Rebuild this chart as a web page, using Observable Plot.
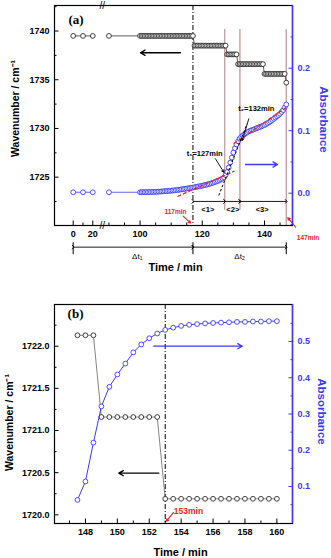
<!DOCTYPE html>
<html><head><meta charset="utf-8">
<script src="https://cdn.jsdelivr.net/npm/d3@7"></script>
<script src="https://cdn.jsdelivr.net/npm/@observablehq/plot@0.6"></script>
<style>
body{margin:0;background:#fff;}
.panel{position:relative;width:331px;}
.panel svg{position:absolute;left:0;top:0;}
</style></head><body>
<div id="pa" class="panel" style="height:280px"></div>
<div id="pb" class="panel" style="height:278px"></div>
<script>
// ---------- Panel (a) data ----------
const sparseTimeA = [0, 10, 20, 90];
const sparseWaveA = [1739.5, 1739.5, 1739.5, 1739.5];
const sparseAbsA = [0.0015, 0.0015, 0.0015, 0.0015];
const denseTimeA = [100,100.5,101,101.5,102,102.5,103,103.5,104,104.5,
  105,105.5,106,106.5,107,107.5,108,108.5,109,109.5,
  110,110.5,111,111.5,112,112.5,113,113.5,114,114.5,
  115,115.5,116,116.5,117,117.5,118,118.5,119,119.5,
  120,120.5,121,121.5,122,122.5,123,123.5,124,124.5,
  125,125.5,126,126.5,127,127.5,128,128.5,129,129.5,
  130,130.5,131,131.5,132,132.5,133,133.5,134,134.5,
  135,135.5,136,136.5,137,137.5,138,138.5,139,139.5,
  140,140.5,141,141.5,142,142.5,143,143.5,144,144.5,
  145,145.5,146,146.5,147];
const denseAbsA = [0.0015,0.0015,0.0016,0.0016,0.0017,0.0017,0.0018,0.0019,0.002,0.0021,
  0.0022,0.0023,0.0025,0.0026,0.0028,0.003,0.0032,0.0034,0.0036,0.0038,
  0.004,0.0043,0.0046,0.0049,0.0052,0.0055,0.0058,0.0062,0.0066,0.007,
  0.0074,0.0078,0.0082,0.0086,0.009,0.0095,0.01,0.0105,0.011,0.0115,
  0.012,0.0126,0.0132,0.0138,0.0145,0.0152,0.016,0.0168,0.0177,0.0186,
  0.0196,0.0207,0.022,0.0235,0.0252,0.029,0.034,0.041,0.049,0.057,
  0.065,0.072,0.078,0.083,0.087,0.09,0.092,0.094,0.096,0.0975,
  0.099,0.1,0.101,0.102,0.103,0.104,0.105,0.106,0.107,0.108,
  0.109,0.1105,0.112,0.1135,0.115,0.117,0.119,0.121,0.123,0.125,
  0.127,0.13,0.133,0.137,0.142];
// wavenumber plateaus: start time of each step and its level
const stepStartA = [100, 117.5, 128, 131.5, 140, 147];
const stepWaveA = [1739.5, 1738.5, 1737.6, 1736.6, 1735.6, 1734.7];
const xLabelTimeA = [0, 20, 100, 120, 140];
const xMinorTimeA = [10, 90, 95, 105, 110, 115, 125, 130, 135, 145];
const waveTicksA = [1725, 1730, 1735, 1740];
const waveMinorA = [1722.5, 1727.5, 1732.5, 1737.5, 1742.5];
const absTicksA = [0, 0.1, 0.2];
const absMinorA = [-0.05, 0.05, 0.15, 0.25];
const regionTimesA = [117, 127.2, 132.1, 147];
const regionLabelsA = ["<1>", "<2>", "<3>"];

// ---------- Panel (b) data ----------
const timeB = [147.5,148,148.5,149,149.5,150,150.5,151,151.5,152,152.5,153,153.5,
  154,154.5,155,155.5,156,156.5,157,157.5,158,158.5,159,159.5,160];
const waveB = [1722.13,1722.13,1722.13,1721.16,1721.16,1721.16,1721.16,1721.16,1721.16,1721.16,1721.16,
  1720.19,1720.19,1720.19,1720.19,1720.19,1720.19,1720.19,1720.19,1720.19,1720.19,1720.19,1720.19,1720.19,1720.19,1720.19];
const absB = [0.063,0.114,0.221,0.321,0.375,0.409,0.439,0.47,0.492,0.509,0.522,0.532,0.538,
  0.543,0.546,0.548,0.55,0.551,0.552,0.553,0.554,0.554,0.555,0.555,0.556,0.556];
const xTicksB = [148, 150, 152, 154, 156, 158, 160];
const xMinorB = [147, 149, 151, 153, 155, 157, 159];
const waveTicksB = [1720.0, 1720.5, 1721.0, 1721.5, 1722.0];
const waveMinorB = [1720.25, 1720.75, 1721.25, 1721.75, 1722.25];
const absTicksB = [0.1, 0.2, 0.3, 0.4, 0.5];
const absMinorB = [0.05, 0.15, 0.25, 0.35, 0.45, 0.55];

// ---------- styling ----------
const blue = "#3b3bf2", red = "#e5262b", brown = "#c6a2a2";
const font = "'Liberation Sans', Arial, sans-serif";
const style = {fontFamily: font, fontWeight: "bold", background: "transparent", overflow: "visible"};

// broken time axis: 0-20 min compressed before the break
const txA = t => t >= 50 ? t : 78.51 + t * 0.315;

const xDomainA = [72.5, 149], waveDomainA = [1720.04, 1742.62], absDomainA = [-0.0517, 0.3003];
const xDomainB = [146.06, 160.98], waveDomainB = [1719.897, 1722.495], absDomainB = [-0.002, 0.602];

const rowsA = sparseTimeA.map((t, i) => ({t, w: sparseWaveA[i], a: sparseAbsA[i], g: t < 50 ? 0 : 1}))
  .concat(denseTimeA.map((t, i) => ({t, w: stepWaveA[d3.bisectRight(stepStartA, t) - 1], a: denseAbsA[i], g: 1})));
const rowsB = timeB.map((t, i) => ({t, w: waveB[i], a: absB[i]}));

const T = (data, opts) => Plot.text(data, {x: "x", y: "y", text: "s", ...opts});
const noText = () => "";

const baseA = {width: 331, height: 280, marginLeft: 54, marginRight: 39, marginTop: 5, marginBottom: 55, style};
const baseB = {width: 331, height: 278, marginLeft: 54, marginRight: 39, marginTop: 24, marginBottom: 35, style};

// ---------- Panel (a): wavenumber layer ----------
const aW = Plot.plot({
  ...baseA,
  x: {domain: xDomainA},
  y: {domain: waveDomainA},
  marks: [
    Plot.ruleX(regionTimesA.slice(1, 3), {x: d => txA(d), y1: 1740.16, y2: 1721.6, stroke: brown, strokeWidth: 1.4}),
    Plot.ruleX(regionTimesA.slice(3), {x: d => txA(d), y1: 1740.16, y2: waveDomainA[0], stroke: brown, strokeWidth: 1.4}),
    Plot.ruleX(regionTimesA.slice(0, 1), {x: d => txA(d), stroke: "#000", strokeWidth: 1, strokeDasharray: "5,2,1,2"}),
    Plot.frame({stroke: "#000", strokeWidth: 1.2}),
    Plot.line(rowsA, {x: d => txA(d.t), y: "w", z: "g", stroke: "#333", strokeWidth: 0.8}),
    Plot.dot(rowsA, {x: d => txA(d.t), y: "w", r: 2.4, stroke: "#2a2a2a", fill: "white", strokeWidth: 0.9}),
    Plot.arrow([{x1: 113.0, x2: 100.14, y: 1737.77}], {x1: "x1", x2: "x2", y1: "y", y2: "y", stroke: "#000", strokeWidth: 1.3, headLength: 6}),
    // region dimension lines <1> <2> <3>
    Plot.link(d3.pairs(regionTimesA), {x1: d => txA(d[0]), x2: d => txA(d[1]), y1: 1722.51, y2: 1722.51, stroke: "#000", strokeWidth: 0.9, markerStart: "arrow", markerEnd: "arrow"}),
    T(regionLabelsA.map((s, i) => ({s, x: [121.78, 129.81, 139.26][i], y: 1721.69})), {fontSize: 7.5}),
    // delta t dimension lines
    Plot.ruleX([0, 117, 147], {x: d => txA(d), y1: 1718.27, y2: 1717.04, stroke: "#000", strokeWidth: 1}),
    Plot.link([[0, 117], [117, 147]], {x1: d => txA(d[0]), x2: d => txA(d[1]), y1: 1717.82, y2: 1717.82, stroke: "#000", strokeWidth: 0.9, markerStart: "arrow", markerEnd: "arrow"}),
    T([{s: "Δt₁", x: 99.08, y: 1716.9}, {s: "Δt₂", x: 132.0, y: 1716.9}], {fontSize: 8, fontWeight: "normal"}),
    // red time markers
    T([{s: "117min", x: 111.39, y: 1721.41}, {s: "147min", x: 153.99, y: 1718.79}], {fontSize: 6.5, fill: red}),
    Plot.arrow([{x1: 113.87, y1: 1721.0, x2: 116.22, y2: 1720.29}, {x1: 149.97, y1: 1719.87, x2: 147.49, y2: 1720.84}],
      {x1: "x1", y1: "y1", x2: "x2", y2: "y2", stroke: red, strokeWidth: 1.1, headLength: 3.5}),
    // axis break marks
    T([{s: "//", x: 87.83, y: waveDomainA[1]}, {s: "//", x: 87.83, y: waveDomainA[0]}], {fontSize: 10, fontWeight: "normal"}),
    // axes
    Plot.axisX(xLabelTimeA.map(txA), {anchor: "bottom", tickSize: 0, tickPadding: 5, fontSize: 9, label: null,
      tickFormat: u => xLabelTimeA[xLabelTimeA.map(txA).findIndex(v => Math.abs(v - u) < 1e-6)]}),
    Plot.axisX(xLabelTimeA.map(txA), {anchor: "bottom", tickSize: -4.5, tickFormat: noText, label: null}),
    Plot.axisX(xMinorTimeA.map(txA), {anchor: "bottom", tickSize: -2.5, tickFormat: noText, label: null}),
    Plot.axisY(waveTicksA, {anchor: "left", tickSize: 0, tickPadding: 5, fontSize: 9, tickFormat: d3.format("d"), label: null}),
    Plot.axisY(waveTicksA, {anchor: "left", tickSize: -4.5, tickFormat: noText, label: null}),
    Plot.axisY(waveMinorA, {anchor: "left", tickSize: -2.5, tickFormat: noText, label: null}),
    T([{s: "(a)", x: 79.41, y: 1741.15}], {fontSize: 13, fontFamily: "'Liberation Serif', 'Times New Roman', serif"}),
    T([{s: "Time / min", x: 111.39, y: 1715.71}], {fontSize: 11}),
    T([{s: "Wavenumber / cm⁻¹", x: 59.96, y: 1732.05}], {fontSize: 10.5, rotate: -90})
  ]
});

// ---------- Panel (a): absorbance layer ----------
const aA = Plot.plot({
  ...baseA,
  x: {domain: xDomainA, axis: null},
  y: {domain: absDomainA},
  marks: [
    Plot.line(rowsA, {x: d => txA(d.t), y: "a", z: "g", stroke: blue, strokeWidth: 0.8}),
    Plot.dot(rowsA, {x: d => txA(d.t), y: "a", r: 2.4, stroke: blue, fill: "white", strokeWidth: 0.9}),
    Plot.link([{x1: 112.0, y1: -0.0053, x2: 130.4, y2: 0.0355}, {x1: 130.1, y1: 0.079, x2: 147.4, y2: 0.1387}],
      {x1: "x1", y1: "y1", x2: "x2", y2: "y2", stroke: red, strokeWidth: 1.3, strokeDasharray: "4,2"}),
    Plot.link([{x1: 125.3, y1: -0.0037, x2: 134.4, y2: 0.111}],
      {x1: "x1", y1: "y1", x2: "x2", y2: "y2", stroke: "#000", strokeWidth: 1, strokeDasharray: "2.5,2"}),
    T([{s: "t₁=127min", x: 120.78, y: 0.064}, {s: "t₂=132min", x: 137.37, y: 0.135}], {fontSize: 7.5}),
    Plot.arrow([{x1: 124.25, y1: 0.055, x2: 126.92, y2: 0.0336}, {x1: 134.96, y1: 0.119, x2: 132.83, y2: 0.0843}],
      {x1: "x1", y1: "y1", x2: "x2", y2: "y2", stroke: "#000", strokeWidth: 0.9, headLength: 4}),
    Plot.arrow([{x1: 133.9, x2: 144.2, y: 0.0459}], {x1: "x1", x2: "x2", y1: "y", y2: "y", stroke: blue, strokeWidth: 1.3, headLength: 6}),
    Plot.ruleX([xDomainA[1]], {stroke: blue, strokeWidth: 1.5}),
    Plot.axisY(absTicksA, {anchor: "right", tickSize: 0, tickPadding: 5, fontSize: 9, color: blue, tickFormat: d3.format(".1f"), label: null}),
    Plot.axisY(absTicksA, {anchor: "right", tickSize: -4.5, color: blue, tickFormat: noText, label: null}),
    Plot.axisY(absMinorA, {anchor: "right", tickSize: -2.5, color: blue, tickFormat: noText, label: null}),
    T([{s: "Absorbance", x: 158.87, y: 0.1179}], {fontSize: 11.5, fill: blue, rotate: 90})
  ]
});

// ---------- Panel (b): wavenumber layer ----------
const bW = Plot.plot({
  ...baseB,
  x: {domain: xDomainB},
  y: {domain: waveDomainB},
  marks: [
    Plot.ruleX([153], {stroke: "#000", strokeWidth: 1, strokeDasharray: "5,2,1,2"}),
    Plot.frame({stroke: "#000", strokeWidth: 1.2}),
    Plot.line(rowsB, {x: "t", y: "w", stroke: "#666", strokeWidth: 0.8}),
    Plot.dot(rowsB, {x: "t", y: "w", r: 2.4, stroke: "#2a2a2a", fill: "white", strokeWidth: 0.9}),
    Plot.arrow([{x1: 152.6, x2: 150.09, y: 1720.494}], {x1: "x1", x2: "x2", y1: "y", y2: "y", stroke: "#000", strokeWidth: 1.3, headLength: 6}),
    T([{s: "153min", x: 153.54, y: 1720.04}], {fontSize: 8.5, fill: red, textAnchor: "start"}),
    Plot.arrow([{x1: 153.52, y1: 1720.028, x2: 153.08, y2: 1719.925}], {x1: "x1", y1: "y1", x2: "x2", y2: "y2", stroke: red, strokeWidth: 1.1, headLength: 3.5}),
    Plot.axisX(xTicksB, {anchor: "bottom", tickSize: 0, tickPadding: 5, fontSize: 9, label: null}),
    Plot.axisX(xTicksB, {anchor: "bottom", tickSize: -4.5, tickFormat: noText, label: null}),
    Plot.axisX(xMinorB, {anchor: "bottom", tickSize: -2.5, tickFormat: noText, label: null}),
    Plot.axisY(waveTicksB, {anchor: "left", tickSize: 0, tickPadding: 5, fontSize: 9, tickFormat: d3.format(".1f"), label: null}),
    Plot.axisY(waveTicksB, {anchor: "left", tickSize: -4.5, tickFormat: noText, label: null}),
    Plot.axisY(waveMinorB, {anchor: "left", tickSize: -2.5, tickFormat: noText, label: null}),
    T([{s: "(b)", x: 147.38, y: 1722.39}], {fontSize: 13, fontFamily: "'Liberation Serif', 'Times New Roman', serif"}),
    T([{s: "Time / min", x: 153.96, y: 1719.557}], {fontSize: 11}),
    T([{s: "Wavenumber / cm⁻¹", x: 143.27, y: 1721.095}], {fontSize: 10.5, rotate: -90})
  ]
});

// ---------- Panel (b): absorbance layer ----------
const bA = Plot.plot({
  ...baseB,
  x: {domain: xDomainB, axis: null},
  y: {domain: absDomainB},
  marks: [
    Plot.line(rowsB, {x: "t", y: "a", stroke: blue, strokeWidth: 1}),
    Plot.dot(rowsB, {x: "t", y: "a", r: 2.4, stroke: blue, fill: "white", strokeWidth: 0.9}),
    Plot.arrow([{x1: 152.28, x2: 157.83, y: 0.487}], {x1: "x1", x2: "x2", y1: "y", y2: "y", stroke: blue, strokeWidth: 1.3, headLength: 6}),
    Plot.ruleX([xDomainB[1]], {stroke: blue, strokeWidth: 1.5}),
    Plot.axisY(absTicksB, {anchor: "right", tickSize: 0, tickPadding: 5, fontSize: 9, color: blue, tickFormat: d3.format(".1f"), label: null}),
    Plot.axisY(absTicksB, {anchor: "right", tickSize: -4.5, color: blue, tickFormat: noText, label: null}),
    Plot.axisY(absMinorB, {anchor: "right", tickSize: -2.5, color: blue, tickFormat: noText, label: null}),
    T([{s: "Absorbance", x: 162.8, y: 0.307}], {fontSize: 11.5, fill: blue, rotate: 90})
  ]
});

document.getElementById("pa").append(aW, aA);
document.getElementById("pb").append(bW, bA);
</script>
</body></html>
